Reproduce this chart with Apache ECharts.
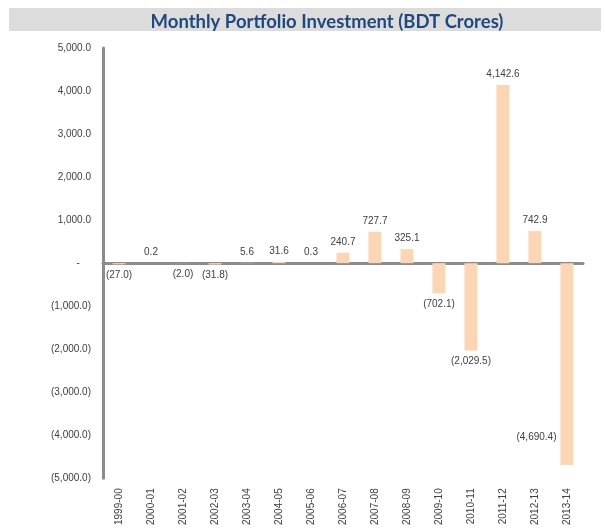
<!DOCTYPE html>
<html>
<head>
<meta charset="utf-8">
<script src="https://cdn.jsdelivr.net/npm/echarts@6/dist/echarts.min.js"></script>
<style>
  html, body { margin: 0; padding: 0; background: #fff; }
  #chart { width: 605px; height: 528px; }
</style>
</head>
<body>
<div id="chart"></div>
<script>
// 年度（财年）
const years = ['1999-00', '2000-01', '2001-02', '2002-03', '2003-04', '2004-05', '2005-06',
  '2006-07', '2007-08', '2008-09', '2009-10', '2010-11', '2011-12', '2012-13', '2013-14']
// 组合投资净额, BDT crores
const investment = [-27.0, 0.2, -2.0, -31.8, 5.6, 31.6, 0.3,
  240.7, 727.7, 325.1, -702.1, -2029.5, 4142.6, 742.9, -4690.4]
// y轴刻度
const yMin = -5000
const yMax = 5000
const yStep = 1000

// 会计格式: 1,000.0 / (1,000.0) / -
function acct (v) {
  if (Math.abs(v) < 1e-9) return '-    '
  const s = Math.abs(v).toFixed(1).replace(/\B(?=(\d{3})+(?!\d))/g, ',')
  return v < 0 ? '(' + s + ')' : s
}

const textColor = '#404040'
const axisGray = '#8c8c8c'
const font = 'Liberation Sans'

const chart = echarts.init(document.getElementById('chart'))

const seriesData = investment.map((v, i) => {
  const item = { value: v, label: { position: v < 0 ? 'bottom' : 'top' } }
  // 最后一根柱子的标签放在左侧
  if (i === investment.length - 1) {
    item.label = { position: 'left', distance: 4, offset: [0, 73] }
  }
  return item
})

chart.setOption({
  animation: false,
  graphic: [{
    type: 'rect',
    left: 9, top: 8,
    shape: { width: 592, height: 23 },
    style: { fill: '#dcdcdc' },
    z: -1,
  }],
  title: {
    text: 'Monthly Portfolio Investment (BDT Crores)',
    left: 322,
    textAlign: 'center',
    top: 8,
    textStyle: { fontFamily: 'Lato', fontWeight: 'bold', fontSize: 18.5, color: '#1f497d' },
  },
  grid: { left: 103, right: 22, top: 48, bottom: 49, containLabel: false },
  xAxis: [
    {
      type: 'category',
      data: years,
      position: 'bottom',
      axisLine: { show: false, onZero: false },
      axisTick: { show: false },
      axisLabel: { rotate: 90, margin: 10, fontSize: 10, fontFamily: font, color: textColor, interval: 0 },
    },
    {
      type: 'category',
      data: years,
      axisLine: { show: true, onZero: true, lineStyle: { color: axisGray, width: 3 } },
      axisTick: { show: false },
      axisLabel: { show: false },
    },
  ],
  yAxis: {
    type: 'value',
    min: yMin,
    max: yMax,
    interval: yStep,
    axisLine: { show: true, lineStyle: { color: axisGray, width: 3 } },
    axisTick: { show: false },
    splitLine: { show: false },
    axisLabel: { margin: 12, fontSize: 10, fontFamily: font, color: textColor, formatter: acct },
  },
  series: [{
    type: 'bar',
    xAxisIndex: 0,
    data: seriesData,
    barWidth: 13,
    itemStyle: { color: '#fcd5b4' },
    label: {
      show: true,
      distance: 6,
      fontSize: 10,
      fontFamily: font,
      color: textColor,
      formatter: p => acct(p.value),
    },
  }],
})
</script>
</body>
</html>
